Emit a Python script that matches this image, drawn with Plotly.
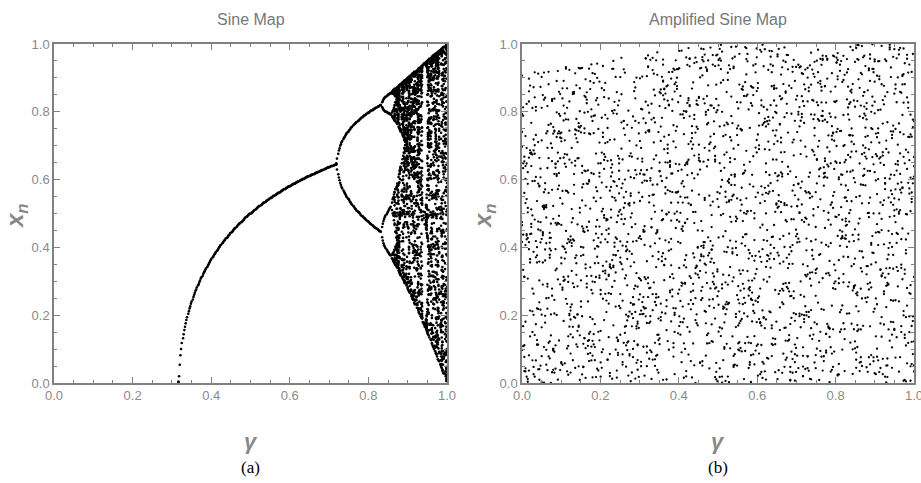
import numpy as np
import plotly.graph_objects as go

# ---- data definitions ----
# Sine map: x_{n+1} = gamma * sin(pi * x_n)
sine_gamma_min, sine_gamma_max, sine_gamma_steps = 0.0, 1.0, 520
sine_transient, sine_keep = 400, 40

# Amplified sine map: upper edge of the scatter
amp_edge_gamma = [0.0, 0.1, 0.2, 0.3, 0.4, 0.5, 1.0]
amp_edge_top = [0.915, 0.93, 0.95, 0.97, 0.985, 1.0, 1.0]
amp_gamma_steps, amp_transient, amp_keep = 340, 50, 8
amp_gain = 997.0

x_ticks = [0.0, 0.2, 0.4, 0.6, 0.8, 1.0]
x_tick_labels = ["0.0", "0.2", "0.4", "0.6", "0.8", "1.0"]
y_ticks = [0.0, 0.2, 0.4, 0.6, 0.8, 1.0]
y_tick_labels = ["0.0", "0.2", "0.4", "0.6", "0.8", "1.0"]
titles = ["Sine Map", "Amplified Sine Map"]
panel_tags = ["(a)", "(b)"]

# ---- compute sine map iterates ----
g = np.linspace(sine_gamma_min, sine_gamma_max, sine_gamma_steps)
x = np.full_like(g, 0.4)
for _ in range(sine_transient):
    x = g * np.sin(np.pi * x)
sg, sx = [], []
for _ in range(sine_keep):
    x = g * np.sin(np.pi * x)
    sg.append(g.copy()); sx.append(x.copy())
sg = np.concatenate(sg); sx = np.concatenate(sx)
mask = sx > 0.002
sg, sx = sg[mask], sx[mask]
key = np.unique(np.stack([np.round(sg * 600), np.round(sx * 500)], 1), axis=0)
sg, sx = key[:, 0] / 600, key[:, 1] / 500

# ---- compute amplified sine map iterates ----
ag = np.linspace(0.0, 1.0, amp_gamma_steps)
top = np.interp(ag, amp_edge_gamma, amp_edge_top)
y = np.full_like(ag, 0.3) + ag * 0.1
for _ in range(amp_transient):
    y = top * np.mod(amp_gain * (1 + ag) * np.sin(np.pi * y), 1.0)
ax_g, ax_x = [], []
for _ in range(amp_keep):
    y = top * np.mod(amp_gain * (1 + ag) * np.sin(np.pi * y), 1.0)
    ax_g.append(ag.copy()); ax_x.append(y.copy())
ax_g = np.concatenate(ax_g); ax_x = np.concatenate(ax_x)

W, H = 921, 483
L1, R1 = 54, 447
L2, R2 = 522, 914
T, B = 44, 383

fig = go.Figure()
fig.add_trace(go.Scatter(x=sg, y=sx, mode="markers", xaxis="x", yaxis="y",
                         marker=dict(color="black", size=2.6, line=dict(width=0)),
                         hoverinfo="skip", showlegend=False))
fig.add_trace(go.Scatter(x=ax_g, y=ax_x, mode="markers", xaxis="x2", yaxis="y2",
                         marker=dict(color="black", size=2.3, line=dict(width=0)),
                         hoverinfo="skip", showlegend=False))

tickfont = dict(family="Liberation Sans Narrow, Liberation Sans, Arial", size=13, color="#8a8a8a")
def axis_style(domain, ticks, labels, anchor):
    return dict(domain=domain, range=[0, 1], tickvals=ticks, ticktext=labels,
                ticks="inside", ticklen=6, tickwidth=1.2, tickcolor="#808080",
                showline=True, linecolor="#808080", linewidth=1.5, mirror="ticks",
                showgrid=False, zeroline=False, anchor=anchor, tickfont=tickfont,
                minor=dict(dtick=0.05, ticks="inside", ticklen=3, tickwidth=1, tickcolor="#808080"),
                fixedrange=True, layer="above traces", automargin=False,
                ticklabeloverflow="allow")

ydom = [1 - B / H, 1 - T / H]
fig.update_layout(
    width=W, height=H, margin=dict(l=0, r=0, t=0, b=0, autoexpand=False),
    paper_bgcolor="white", plot_bgcolor="white",
    xaxis=axis_style([L1 / W, R1 / W], x_ticks, x_tick_labels, "y"),
    yaxis=axis_style(ydom, y_ticks, y_tick_labels, "x"),
    xaxis2=axis_style([L2 / W, R2 / W], x_ticks, x_tick_labels, "y2"),
    yaxis2=axis_style(ydom, y_ticks, y_tick_labels, "x2"),
)

anns = []
for i, (l, r) in enumerate([(L1, R1), (L2, R2)]):
    cx = (l + r) / 2 / W
    anns.append(dict(x=cx, y=1 - 19 / H, text=titles[i], showarrow=False,
                     font=dict(family="Liberation Sans Narrow, Liberation Sans", size=16, color="#777777"),
                     xref="paper", yref="paper", xanchor="center", yanchor="middle"))
    anns.append(dict(x=cx, y=1 - 441 / H, text="<b><i>γ</i></b>", showarrow=False,
                     font=dict(family="Liberation Sans", size=22, color="#888888"),
                     xref="paper", yref="paper", xanchor="center", yanchor="middle"))
    anns.append(dict(x=cx, y=1 - 467 / H, text=panel_tags[i], showarrow=False,
                     font=dict(family="Liberation Serif, Times New Roman", size=17, color="black"),
                     xref="paper", yref="paper", xanchor="center", yanchor="middle"))
    anns.append(dict(x=(l - 37) / W, y=1 - 216 / H, text="<b><i>x<sub>n</sub></i></b>", showarrow=False,
                     textangle=-90,
                     font=dict(family="Liberation Sans", size=24, color="#888888"),
                     xref="paper", yref="paper", xanchor="center", yanchor="middle"))
fig.update_layout(annotations=anns)

fig.write_html("out.html")
